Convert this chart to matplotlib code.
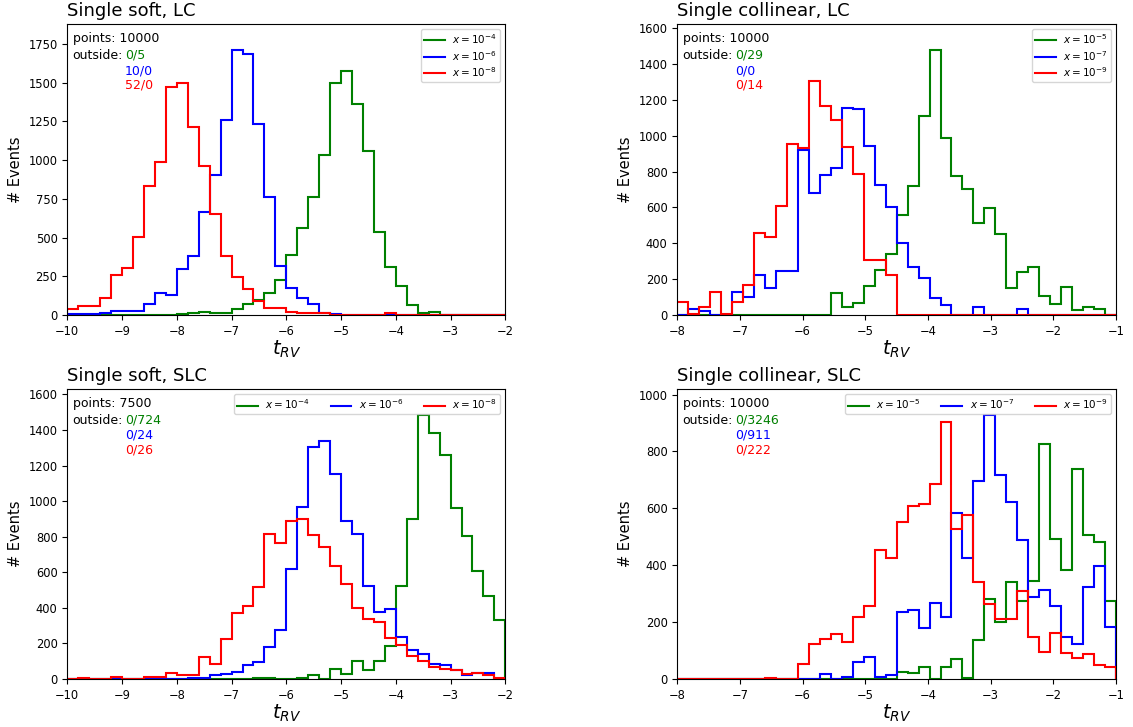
import numpy as np
import matplotlib
matplotlib.use("Agg")
import matplotlib.pyplot as plt

# bin counts per panel, 40 bins each
soft_lc_range = (-10, -2)
soft_lc_g = [0, 0, 0, 0, 0, 0, 0, 0, 0, 0, 8, 12, 18, 15, 15, 37, 71, 97, 140, 227,
             384, 564, 764, 1035, 1496, 1575, 1362, 1055, 538, 310, 187, 62, 11, 19, 0, 0, 0, 0, 0, 0]
soft_lc_b = [4, 5, 4, 10, 28, 28, 28, 71, 144, 129, 295, 383, 665, 904, 1259, 1707, 1681, 1231, 764, 318,
             175, 108, 69, 10, 8, 0, 0, 0, 0, 0, 0, 0, 0, 0, 0, 0, 0, 0, 0, 0]
soft_lc_r = [37, 60, 60, 112, 258, 306, 504, 831, 990, 1468, 1500, 1214, 964, 650, 380, 245, 170, 90, 46, 46,
             20, 10, 15, 15, 0, 0, 0, 0, 0, 10, 0, 0, 0, 0, 0, 0, 0, 0, 0, 0]

coll_lc_range = (-8, -1)
coll_lc_g = [0, 0, 0, 0, 0, 0, 0, 0, 0, 0, 2, 0, 0, 0, 125, 47, 69, 162, 253, 342,
             556, 722, 1110, 1475, 988, 774, 702, 515, 599, 453, 153, 238, 270, 108, 61, 158, 28, 43, 35, 0]
coll_lc_b = [0, 32, 22, 0, 0, 128, 99, 223, 153, 244, 244, 921, 679, 780, 817, 1152, 1148, 940, 727, 600,
             404, 270, 207, 93, 56, 0, 0, 43, 0, 0, 0, 32, 0, 0, 0, 0, 0, 0, 0, 0]
coll_lc_r = [74, 3, 43, 128, 6, 71, 167, 456, 433, 610, 951, 932, 1306, 1163, 1085, 936, 787, 305, 305, 225,
             0, 0, 0, 0, 0, 0, 0, 0, 0, 0, 0, 0, 0, 0, 0, 0, 0, 0, 0, 0]

soft_slc_range = (-10, -2)
soft_slc_g = [0, 0, 0, 0, 0, 0, 0, 0, 0, 0, 0, 0, 0, 0, 0, 0, 0, 8, 4, 0,
              0, 4, 24, 0, 59, 31, 100, 51, 102, 184, 524, 902, 1482, 1384, 1261, 963, 804, 606, 469, 331]
soft_slc_b = [0, 0, 0, 0, 0, 0, 0, 0, 0, 0, 0, 8, 8, 24, 31, 41, 76, 96, 182, 278,
              616, 969, 1306, 1339, 1151, 890, 816, 522, 376, 396, 239, 163, 143, 86, 80, 53, 24, 33, 33, 0]
soft_slc_r = [0, 4, 0, 0, 10, 2, 2, 10, 14, 35, 24, 24, 122, 86, 224, 371, 408, 518, 816, 763,
              890, 902, 812, 743, 637, 535, 402, 335, 318, 233, 192, 127, 102, 65, 59, 51, 29, 35, 20, 3]

coll_slc_range = (-8, -1)
coll_slc_g = [0, 0, 0, 0, 0, 0, 0, 0, 0, 0, 0, 0, 0, 0, 0, 0, 0, 0, 0, 0,
              26, 20, 41, 0, 43, 69, 5, 137, 281, 201, 342, 276, 344, 826, 492, 385, 740, 508, 482, 274]
coll_slc_b = [0, 0, 0, 0, 0, 0, 0, 0, 0, 0, 0, 0, 0, 16, 0, 8, 61, 78, 8, 14,
              237, 242, 181, 266, 218, 584, 427, 695, 927, 719, 621, 488, 289, 313, 258, 146, 122, 324, 398, 182]
coll_slc_r = [0, 0, 0, 0, 0, 0, 0, 0, 2, 0, 0, 52, 123, 139, 157, 131, 219, 256, 452, 426,
              553, 608, 616, 685, 904, 527, 576, 340, 263, 211, 211, 309, 148, 94, 162, 91, 75, 89, 51, 43]

titles = ["Single soft, LC", "Single collinear, LC", "Single soft, SLC", "Single collinear, SLC"]
points = [10000, 10000, 7500, 10000]
outside = [["0/5", "10/0", "52/0"],
           ["0/29", "0/0", "0/14"],
           ["0/724", "0/24", "0/26"],
           ["0/3246", "0/911", "0/222"]]
soft_labels = [r"$x=10^{-4}$", r"$x=10^{-6}$", r"$x=10^{-8}$"]
coll_labels = [r"$x=10^{-5}$", r"$x=10^{-7}$", r"$x=10^{-9}$"]
colors = ["g", "b", "r"]

panels = [
    (soft_lc_range, [soft_lc_g, soft_lc_b, soft_lc_r], soft_labels, 1),
    (coll_lc_range, [coll_lc_g, coll_lc_b, coll_lc_r], coll_labels, 1),
    (soft_slc_range, [soft_slc_g, soft_slc_b, soft_slc_r], soft_labels, 3),
    (coll_slc_range, [coll_slc_g, coll_slc_b, coll_slc_r], coll_labels, 3),
]

fig = plt.figure(figsize=(11.33, 7.27), dpi=100)
boxes = [[0.0594, 0.5667, 0.3866, 0.4003],
         [0.5978, 0.5667, 0.3872, 0.4003],
         [0.0594, 0.0660, 0.3866, 0.3989],
         [0.5978, 0.0660, 0.3872, 0.3989]]

for k, (rng, hists, labels, ncol) in enumerate(panels):
    ax = fig.add_axes(boxes[k])
    edges = np.linspace(rng[0], rng[1], len(hists[0]) + 1)
    for counts, c, lab in zip(hists, colors, labels):
        ax.stairs(counts, edges, color=c, linewidth=1.5, label=lab)
    ax.set_xlim(rng)
    ax.set_ylim(0, 1.1 * max(max(h) for h in hists))
    ax.set_xticks(np.arange(rng[0], rng[1] + 1))
    ax.tick_params(labelsize=8.3)
    ax.set_title(titles[k], loc="left", fontsize=13)
    ax.set_xlabel(r"$t_{RV}$", fontsize=14, labelpad=1)
    ax.set_ylabel("# Events", fontsize=10.5)
    ax.legend(loc="upper right", ncol=ncol, fontsize=7.5, labelspacing=0.25,
              borderpad=0.3, handletextpad=0.7)

    ax.text(0.012, 0.938, "points: %d" % points[k], transform=ax.transAxes,
            fontsize=9, va="baseline")
    ax.text(0.012, 0.881, "outside:", transform=ax.transAxes, fontsize=9, va="baseline")
    for s, c, y in zip(outside[k], colors, [0.881, 0.828, 0.778]):
        ax.text(0.131, y, s, color=c, transform=ax.transAxes, fontsize=9, va="baseline")

fig.savefig("out.png", dpi=100)
